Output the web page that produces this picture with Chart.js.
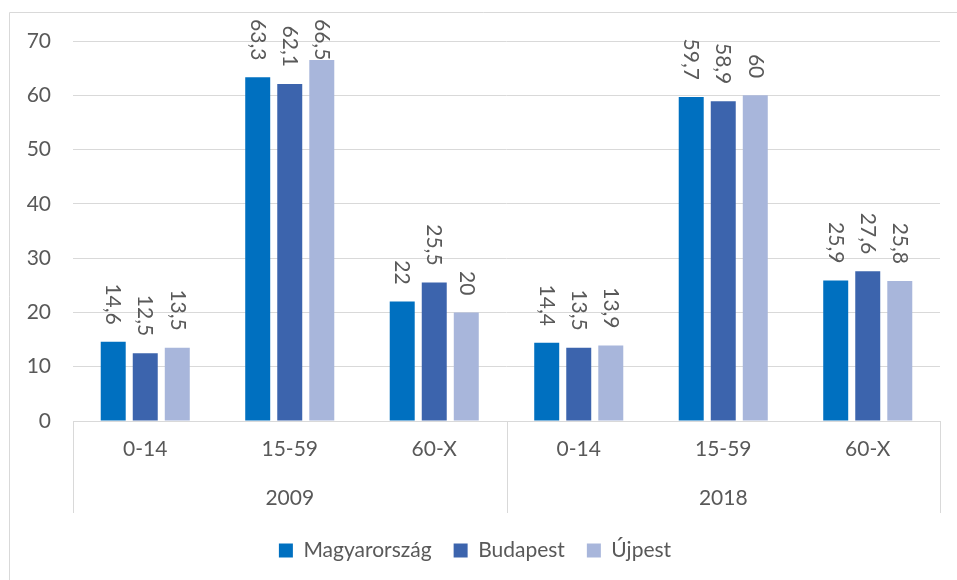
<!DOCTYPE html>
<html>
<head>
<meta charset="utf-8">
<script src="https://cdn.jsdelivr.net/npm/chart.js@4"></script>
<style>
    body { margin: 0; background: #fff; }
    canvas { display: block; }
</style>
</head>
<body>
<canvas id="chart" width="957" height="580"></canvas>
<script>
const categories = ["0-14", "15-59", "60-X", "0-14", "15-59", "60-X"];
const groups = ["2009", "2018"];
const magyarorszag = [14.6, 63.3, 22, 14.4, 59.7, 25.9];
const budapest = [12.5, 62.1, 25.5, 13.5, 58.9, 27.6];
const ujpest = [13.5, 66.5, 20, 13.9, 60, 25.8];
const yTicks = [0, 10, 20, 30, 40, 50, 60, 70];

const FONT = "Lato, 'Open Sans', sans-serif";
const TEXT = "#595959";
const LINE = "#D9D9D9";

/* ============================
   FRAME + GROUP AXIS
============================ */
const framePlugin = {
    id: "frame",
    beforeDraw(chart) {
        const ctx = chart.ctx;
        ctx.save();
        ctx.strokeStyle = LINE;
        ctx.lineWidth = 1;
        ctx.beginPath();
        ctx.moveTo(9.5, chart.height);
        ctx.lineTo(9.5, 12.5);
        ctx.lineTo(chart.width, 12.5);
        ctx.stroke();
        ctx.restore();
    },
    afterDraw(chart) {
        const ctx = chart.ctx;
        const x = chart.scales.x;
        const area = chart.chartArea;
        const perGroup = categories.length / groups.length;
        const step = (area.right - area.left) / categories.length;
        ctx.save();
        ctx.strokeStyle = LINE;
        ctx.lineWidth = 1;
        for (let g = 0; g <= groups.length; g++) {
            const px = Math.round(area.left + g * perGroup * step) + 0.5;
            ctx.beginPath();
            ctx.moveTo(px, area.bottom);
            ctx.lineTo(px, area.bottom + 92);
            ctx.stroke();
        }
        ctx.fillStyle = TEXT;
        ctx.font = "21px " + FONT;
        ctx.textAlign = "center";
        ctx.textBaseline = "middle";
        groups.forEach((g, i) => {
            const cx = (x.getPixelForValue(i * perGroup) + x.getPixelForValue(i * perGroup + perGroup - 1)) / 2;
            ctx.fillText(g, cx, area.bottom + 77);
        });
        ctx.restore();
    }
};

/* ============================
   ROTATED VALUE LABELS
============================ */
const valueLabels = {
    id: "valueLabels",
    afterDatasetsDraw(chart) {
        const ctx = chart.ctx;
        ctx.save();
        ctx.fillStyle = TEXT;
        ctx.font = "21px " + FONT;
        ctx.textAlign = "right";
        ctx.textBaseline = "middle";
        chart.data.datasets.forEach((ds, di) => {
            chart.getDatasetMeta(di).data.forEach((bar, i) => {
                const txt = String(ds.data[i]).replace(".", ",");
                const w = ctx.measureText(txt).width;
                let bottom = bar.y - 17;
                if (bottom - w < 19) bottom = 19 + w;
                ctx.save();
                ctx.translate(bar.x, bottom);
                ctx.rotate(Math.PI / 2);
                ctx.fillText(txt, 0, 0);
                ctx.restore();
            });
        });
        ctx.restore();
    }
};

new Chart(document.getElementById("chart"), {
    type: "bar",
    data: {
        labels: categories,
        datasets: [
            { label: "Magyarország", data: magyarorszag, backgroundColor: "#0070C0" },
            { label: "Budapest", data: budapest, backgroundColor: "#3C64AD" },
            { label: "Újpest", data: ujpest, backgroundColor: "#A8B6DB" }
        ]
    },
    options: {
        responsive: false,
        animation: false,
        categoryPercentage: 0.665,
        barPercentage: 0.78,
        layout: { padding: { top: 41, left: 10, right: 17, bottom: 9 } },
        plugins: {
            legend: {
                position: "bottom",
                labels: {
                    boxWidth: 14,
                    boxHeight: 14,
                    padding: 22,
                    color: TEXT,
                    font: { family: FONT, size: 21 }
                }
            },
            tooltip: { enabled: false }
        },
        scales: {
            x: {
                grid: { display: false, drawTicks: false },
                border: { display: true, color: LINE, width: 1 },
                ticks: { color: TEXT, font: { family: FONT, size: 21 }, padding: 16, maxRotation: 0 },
                afterFit(scale) { scale.height = 97; }
            },
            y: {
                min: 0,
                max: 70,
                afterBuildTicks(scale) { scale.ticks = yTicks.map(v => ({ value: v })); },
                grid: { color: LINE, drawTicks: false },
                border: { display: false },
                ticks: { color: TEXT, font: { family: FONT, size: 21 }, padding: 22 },
                afterFit(scale) { scale.width = 63; }
            }
        }
    },
    plugins: [framePlugin, valueLabels]
});
</script>
</body>
</html>
